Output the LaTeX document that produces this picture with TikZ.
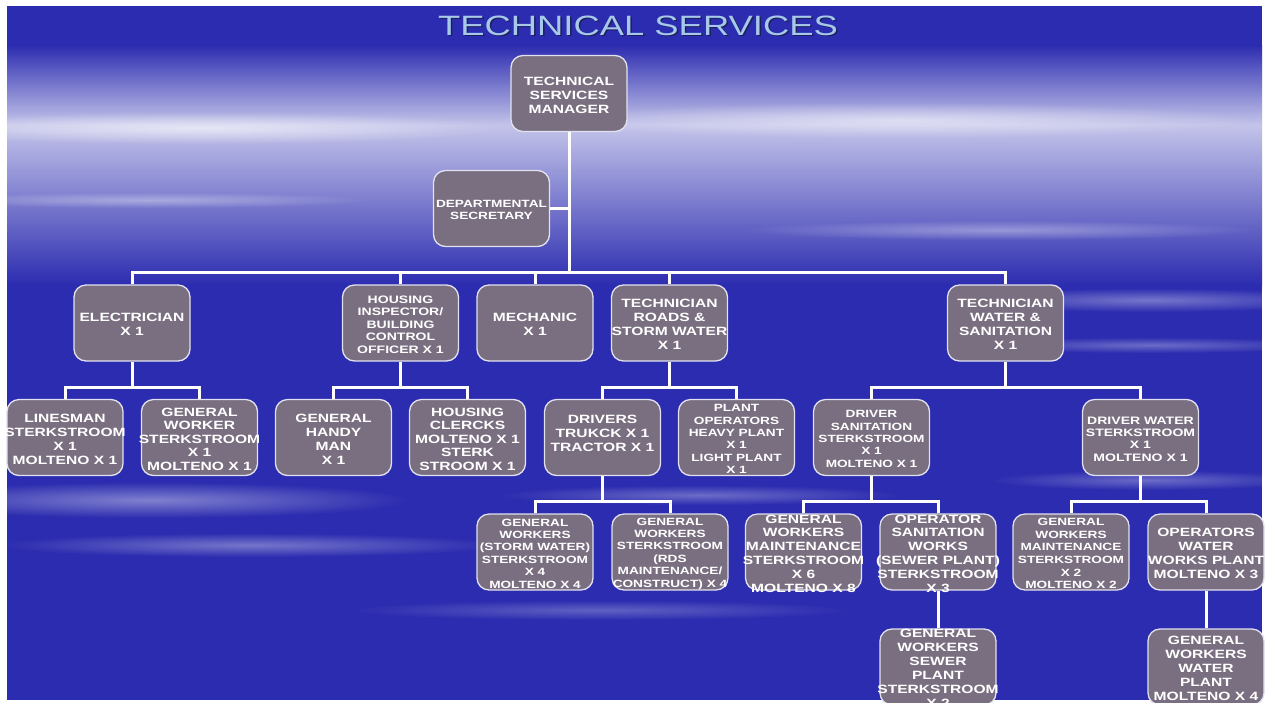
\documentclass[tikz,border=0pt]{standalone}
\usepackage{fontspec}
\newfontfamily\bxf[FakeStretch=1.3]{Liberation Sans}
\usetikzlibrary{fadings}
\tikzfading[name=softblob, inner color=transparent!0, outer color=transparent!100]
\definecolor{bgblue}{RGB}{44,44,176}
\definecolor{bgmid}{RGB}{110,110,206}
\definecolor{bglight}{RGB}{196,196,234}
\definecolor{boxfill}{RGB}{122,111,128}
\definecolor{boxline}{RGB}{225,225,240}
\definecolor{titlecol}{RGB}{165,200,235}
\definecolor{titleshadow}{RGB}{30,30,90}
\tikzset{
 boxshape/.style={draw=boxline, line width=1.3pt, fill=boxfill, rounded corners=12pt, minimum width=116pt, minimum height=76pt, inner sep=0pt},
 boxtext/.style={text=white, align=center, inner sep=0pt, yshift=-1.5pt, font=\bxf\bfseries\fontsize{12}{14}\selectfont},
 smalltext/.style={font=\bxf\bfseries\fontsize{10.5}{12.4}\selectfont},
 conn/.style={draw=white, line width=3pt},
 streak/.style={fill=white, path fading=softblob},
 titletext/.style={font=\bxf\fontsize{28}{30}\selectfont, anchor=base, inner sep=0pt},
}
\newcommand\orgbox[5]{\node[boxshape] (#1) at (#2,#3) {};\node[boxtext,#4] (#1t) at (#1.center) {#5};}
\begin{document}
\begin{tikzpicture}[x=1pt,y=-1pt]
\useasboundingbox (0,0) rectangle (1265,702);
\clip (0,0) rectangle (1265,702);
\fill[white] (0,0) rectangle (1265,702);
% background
\begin{scope}
\clip (7,6) rectangle (1262,700);
\fill[bgblue] (7,6) rectangle (1262,700);
\shade[top color=bgblue, bottom color=bglight] (7,45) rectangle (1262,125);
\shade[top color=bglight, middle color=bgmid, bottom color=bgblue] (7,125) rectangle (1262,285);
\fill[streak, opacity=.6] (200,128) ellipse (300 and 16);
\fill[streak, opacity=.5] (900,120) ellipse (350 and 18);
\fill[streak, opacity=.35] (150,200) ellipse (220 and 8);
\fill[streak, opacity=.35] (1000,230) ellipse (260 and 10);
\fill[streak, opacity=.35] (1150,300) ellipse (200 and 12);
\fill[streak, opacity=.3] (1150,345) ellipse (180 and 8);
\fill[streak, opacity=.4] (150,500) ellipse (260 and 18);
\fill[streak, opacity=.35] (250,545) ellipse (250 and 12);
\fill[streak, opacity=.3] (700,495) ellipse (200 and 10);
\fill[streak, opacity=.3] (1150,480) ellipse (160 and 10);
\fill[streak, opacity=.25] (600,610) ellipse (250 and 10);
\end{scope}
% title
\node[titletext, text=titleshadow] (titles) at (639.5,36.5) {TECHNICAL SERVICES};
\node[titletext, text=titlecol] (title) at (638,35) {TECHNICAL SERVICES};
% bus levels
\coordinate (bus1) at (569,272);
\coordinate (bus2) at (0,387);
\coordinate (bus3) at (0,501);
% boxes
\orgbox{mgr}{569}{93.5}{}{TECHNICAL\\SERVICES\\MANAGER}
\orgbox{sec}{491.5}{208.5}{font=\bxf\bfseries\fontsize{10.5}{11.7}\selectfont}{DEPARTMENTAL\\SECRETARY}
\orgbox{elec}{132}{323}{}{ELECTRICIAN\\X 1}
\orgbox{hous}{400.5}{323}{font=\bxf\bfseries\fontsize{10.8}{12.5}\selectfont}{HOUSING\\INSPECTOR/\\BUILDING\\CONTROL\\OFFICER X 1}
\orgbox{mech}{535}{323}{}{MECHANIC\\X 1}
\orgbox{techr}{669.5}{323}{}{TECHNICIAN\\ROADS \&\\STORM WATER\\X 1}
\orgbox{techw}{1005.5}{323}{}{TECHNICIAN\\WATER \&\\SANITATION\\X 1}
\orgbox{lines}{65}{437.5}{}{LINESMAN\\STERKSTROOM\\X 1\\MOLTENO X 1}
\orgbox{gwork}{199.5}{437.5}{font=\bxf\bfseries\fontsize{12}{13.5}\selectfont}{GENERAL\\WORKER\\STERKSTROOM\\X 1\\MOLTENO X 1}
\orgbox{handy}{333.5}{437.5}{}{GENERAL\\HANDY\\MAN\\X 1}
\orgbox{clerk}{467.5}{437.5}{font=\bxf\bfseries\fontsize{12}{13.5}\selectfont}{HOUSING\\CLERCKS\\MOLTENO X 1\\STERK\\STROOM X 1}
\orgbox{drivers}{602.5}{437.5}{yshift=6pt}{DRIVERS\\TRUKCK X 1\\TRACTOR X 1}
\orgbox{plant}{736.5}{437.5}{smalltext}{PLANT\\OPERATORS\\HEAVY PLANT\\X 1\\LIGHT PLANT\\X 1}
\orgbox{dsan}{871.5}{437.5}{smalltext}{DRIVER\\SANITATION\\STERKSTROOM\\X 1\\MOLTENO X 1}
\orgbox{dwat}{1140.5}{437.5}{font=\bxf\bfseries\fontsize{10.8}{12.3}\selectfont}{DRIVER WATER\\STERKSTROOM\\X 1\\MOLTENO X 1}
\orgbox{gwsw}{535}{552}{smalltext}{GENERAL\\WORKERS\\(STORM WATER)\\STERKSTROOM\\X 4\\MOLTENO X 4}
\orgbox{gwrds}{670}{552}{smalltext}{GENERAL\\WORKERS\\STERKSTROOM\\(RDS\\MAINTENANCE/\\CONSTRUCT) X 4}
\orgbox{gwm}{803.5}{552}{font=\bxf\bfseries\fontsize{12}{13.8}\selectfont}{GENERAL\\WORKERS\\MAINTENANCE\\STERKSTROOM\\X 6\\MOLTENO X 8}
\orgbox{opsan}{938}{552}{font=\bxf\bfseries\fontsize{12}{13.8}\selectfont}{OPERATOR\\SANITATION\\WORKS\\(SEWER PLANT)\\STERKSTROOM\\X 3}
\orgbox{gwmb}{1071}{552}{font=\bxf\bfseries\fontsize{10.5}{12.6}\selectfont}{GENERAL\\WORKERS\\MAINTENANCE\\STERKSTROOM\\X 2\\MOLTENO X 2}
\orgbox{opw}{1206}{552}{}{OPERATORS\\WATER\\WORKS PLANT\\MOLTENO X 3}
\orgbox{gwsew}{938}{667}{}{GENERAL\\WORKERS\\SEWER\\PLANT\\STERKSTROOM\\X 2}
\orgbox{gwwat}{1206}{667}{}{GENERAL\\WORKERS\\WATER\\PLANT\\MOLTENO X 4}
% connectors level 2
\draw[conn] (mgr.south) -- (bus1);
\draw[conn] (sec.east) -- (sec.east -| mgr.south);
\draw[conn] (elec.north) |- (bus1);
\draw[conn] (techw.north) |- (bus1);
\draw[conn] (hous.north) -- (hous.north |- bus1);
\draw[conn] (mech.north) -- (mech.north |- bus1);
\draw[conn] (techr.north) -- (techr.north |- bus1);
% level 3
\draw[conn] (elec.south) -- (elec.south |- bus2);
\draw[conn] (lines.north) |- (elec.south |- bus2) -| (gwork.north);
\draw[conn] (hous.south) -- (hous.south |- bus2);
\draw[conn] (handy.north) |- (hous.south |- bus2) -| (clerk.north);
\draw[conn] (techr.south) -- (techr.south |- bus2);
\draw[conn] (drivers.north) |- (techr.south |- bus2) -| (plant.north);
\draw[conn] (techw.south) -- (techw.south |- bus2);
\draw[conn] (dsan.north) |- (techw.south |- bus2) -| (dwat.north);
% level 4
\draw[conn] (drivers.south) -- (drivers.south |- bus3);
\draw[conn] (gwsw.north) |- (drivers.south |- bus3) -| (gwrds.north);
\draw[conn] (dsan.south) -- (dsan.south |- bus3);
\draw[conn] (gwm.north) |- (dsan.south |- bus3) -| (opsan.north);
\draw[conn] (dwat.south) -- (dwat.south |- bus3);
\draw[conn] (gwmb.north) |- (dwat.south |- bus3) -| (opw.north);
% level 5
\draw[conn] (opsan.south) -- (gwsew.north);
\draw[conn] (opw.south) -- (gwwat.north);
\end{tikzpicture}
\end{document}
